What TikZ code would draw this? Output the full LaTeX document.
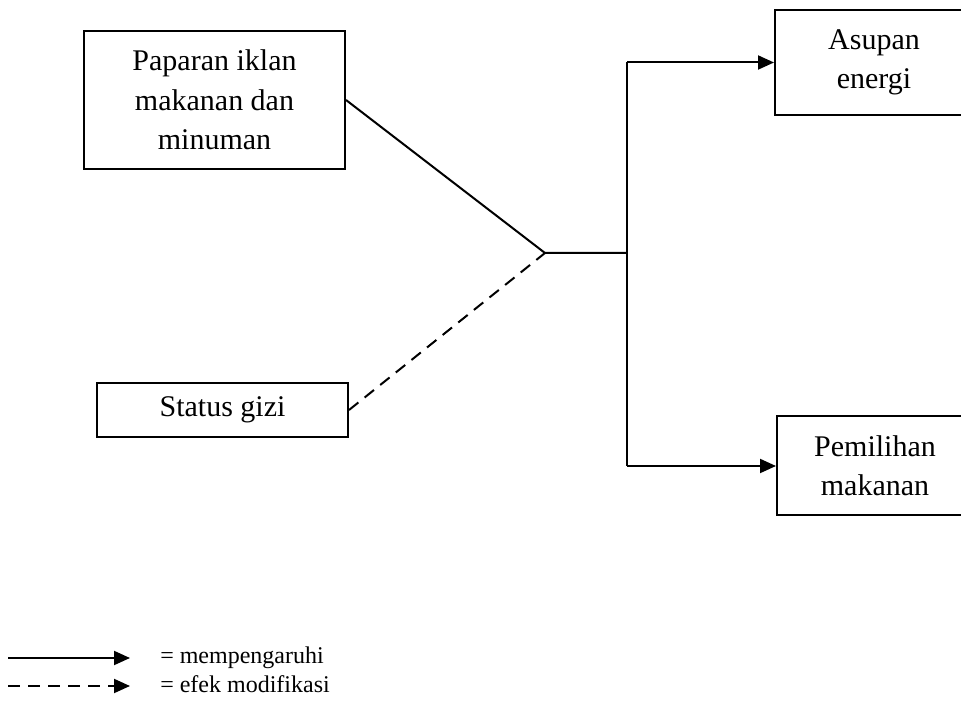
\documentclass[tikz,border=0pt]{standalone}
\usepackage{fontspec}
\setmainfont{Liberation Serif}
\usetikzlibrary{arrows.meta}
\begin{document}
\begin{tikzpicture}[x=0.75pt,y=-0.75pt,
 box/.style={draw,line width=1.5pt,align=center,font=\fontsize{22.5}{29.6}\selectfont,inner sep=0pt},
 ln/.style={line width=1.5pt},
 arr/.style={line width=1.5pt,-{Triangle[length=12pt,width=10.5pt]}},
 dsh/.style={line width=1.5pt,dash pattern=on 9pt off 6pt},
 leg/.style={font=\fontsize{18}{22}\selectfont,anchor=base west,inner sep=0pt}]
\useasboundingbox (0,0) rectangle (961,705);
\clip (0,0) rectangle (961,705);
\node[box,minimum width=195.75pt,minimum height=103.5pt] (b1) at (214.5,100) {Paparan iklan\\makanan dan\\minuman};
\node[box,minimum width=188.25pt,minimum height=40.5pt] (sg) at (222.5,410) {Status gizi};
\node[box,minimum width=148.5pt,minimum height=78.75pt] (ae) at (874,62.5) {Asupan\\energi};
\node[box,minimum width=147pt,minimum height=74.25pt] (pm) at (875,466) {Pemilihan\\makanan};
\coordinate (J) at (545,253);
\coordinate (T) at (627,253);
\coordinate (Ttop) at (627,62.5);
\coordinate (Tbot) at (627,466);
\draw[ln] (b1.east) -- (J) -- (T);
\draw[dsh] (sg.east) -- (J);
\draw[ln] (Ttop) -- (Tbot);
\draw[arr] (Ttop) -- (ae.west);
\draw[arr] (Tbot) -- (pm.west);
\coordinate (L1a) at (8,658);
\coordinate (L1b) at (130,658);
\coordinate (L2a) at (8,686);
\coordinate (L2b) at (130,686);
\draw[arr] (L1a) -- (L1b);
\draw[arr,dash pattern=on 9pt off 6pt] (L2a) -- (L2b);
\node[leg] (t1) at (160,664) {= mempengaruhi};
\node[leg] (t2) at (160,692) {= efek modifikasi};
\end{tikzpicture}
\end{document}
